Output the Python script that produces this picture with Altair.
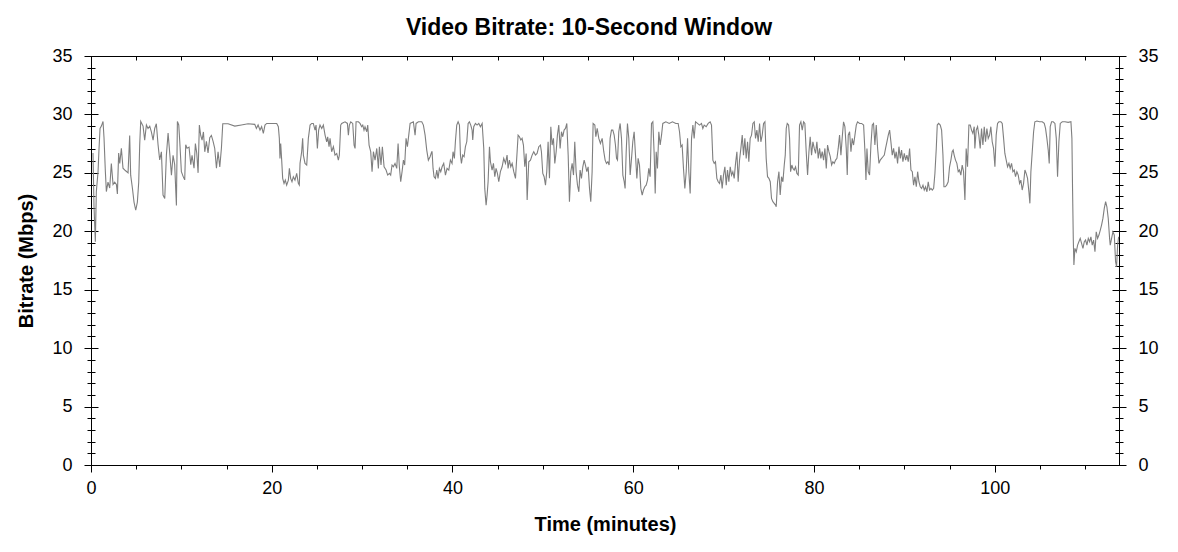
import altair as alt
import pandas as pd

TITLE = "Video Bitrate: 10-Second Window"
X_TITLE = "Time (minutes)"
Y_TITLE = "Bitrate (Mbps)"

# Segment 1: 0 - 18.5 min
seg1_min = [0.22, 0.33, 0.48, 0.59, 0.78, 0.89, 1.00, 1.15, 1.33, 1.44, 1.59, 1.70, 1.88, 2.07, 2.25, 2.44, 2.62, 2.81, 2.92, 3.06,
            3.18, 3.36, 3.54, 3.80, 4.10, 4.28, 4.39, 4.58, 4.76, 4.95, 5.13, 5.28, 5.39, 5.50, 5.76, 5.94, 6.13, 6.31, 6.50, 6.68,
            6.87, 7.05, 7.23, 7.42, 7.60, 7.79, 7.97, 8.16, 8.34, 8.53, 8.71, 8.90, 9.08, 9.26, 9.45, 9.56, 9.71, 9.82, 10.00, 10.19,
            10.37, 10.48, 10.63, 10.85, 11.04, 11.18, 11.40, 11.55, 11.70, 11.85, 11.99, 12.14, 12.29, 12.44, 12.59, 12.77, 12.95,
            13.14, 13.32, 13.51, 13.69, 13.88, 14.06, 14.25, 14.43, 14.58, 15.17, 15.91, 16.64, 17.38, 18.12, 18.30, 18.49]
seg1_mbps = [26.7, 22.2, 19.1, 23.4, 25.1, 27.1, 28.8, 29.0, 29.4, 28.0, 25.1, 23.4, 24.2, 23.7, 25.8, 24.0, 24.2, 24.0, 23.2, 26.7,
             25.8, 27.1, 25.4, 25.2, 25.0, 28.2, 24.8, 23.7, 22.5, 21.8, 22.5, 24.2, 27.4, 29.4, 29.0, 27.8, 29.1, 28.8, 29.0, 28.5,
             27.8, 28.8, 29.2, 27.4, 26.1, 26.8, 23.1, 22.8, 26.5, 28.4, 26.7, 24.8, 26.5, 25.7, 22.2, 29.4, 29.1, 27.7, 25.1, 24.7,
             24.4, 27.4, 27.1, 27.2, 25.7, 26.5, 25.4, 27.5, 26.7, 25.0, 29.1, 28.2, 27.8, 28.5, 26.8, 27.7, 26.7,
             28.0, 28.2, 27.7, 27.1, 25.4, 26.8, 25.5, 27.1, 29.2, 29.2, 29.0, 29.1, 29.2, 29.15, 28.8, 29.1]

# Segment 2: 18.7 - 37.7 min
seg2_min = [18.70, 18.88, 19.07, 19.25, 19.44, 20.55, 20.73, 20.84, 20.91, 20.99, 21.10, 21.21, 21.36, 21.50, 21.65, 21.84, 21.95,
            22.09, 22.24, 22.39, 22.57, 22.76, 22.94, 23.05, 23.13, 23.31, 23.42, 23.50, 23.68, 23.87, 24.05, 24.24, 24.42, 24.60,
            24.79, 24.90, 25.05, 25.19, 25.34, 25.53, 25.71, 25.90, 26.08, 26.19, 26.34, 26.45, 26.63, 26.82, 27.00, 27.19, 27.37,
            27.48, 27.63, 27.74, 28.11, 28.37, 28.48, 28.59, 28.74, 28.96, 29.11, 29.22, 29.33, 29.59, 29.77, 29.95, 30.07, 30.21,
            30.32, 30.51, 30.62, 30.77, 30.95, 31.10, 31.25, 31.43, 31.62, 31.80, 31.91, 32.09, 32.24, 32.43, 32.65, 32.83, 33.02,
            33.16, 33.31, 33.46, 33.64, 33.83, 33.98, 34.12, 34.27, 34.42, 34.57, 34.71, 34.86, 35.01, 35.16, 35.31, 35.67, 35.86,
            35.97, 36.23, 36.60, 36.78, 36.97, 37.15, 37.33, 37.52, 37.70]
seg2_mbps = [28.66, 28.95, 28.38, 29.09, 29.23, 29.23, 28.95, 27.95, 26.24, 27.52, 26.09, 24.53, 24.10, 24.38, 23.95, 24.38, 25.38,
             24.53, 24.24, 24.67, 24.38, 24.95, 24.10, 23.95, 25.81, 26.81, 27.95, 26.52, 25.81, 25.67, 27.95, 29.09, 29.23, 29.23,
             28.66, 29.09, 27.09, 28.66, 29.09, 28.80, 29.09, 28.23, 27.66, 28.09, 27.24, 27.95, 26.81, 27.24, 26.52, 26.66, 26.09,
             26.52, 29.09, 29.23, 29.37, 29.23, 28.23, 29.09, 29.37, 29.23, 27.38, 27.09, 29.37, 29.37, 29.23, 28.95, 29.09, 28.66,
             28.95, 28.52, 29.09, 27.38, 26.81, 25.10, 26.81, 26.09, 27.09, 25.38, 27.24, 25.67, 27.24, 25.52, 25.24, 24.81, 24.95,
             24.81, 25.67, 25.52, 25.81, 25.38, 27.52, 25.52, 24.24, 25.10, 26.09, 25.67, 27.95, 27.24, 28.23, 29.23, 29.37, 28.23,
             29.23, 29.37, 29.37, 29.09, 28.23, 26.95, 26.09, 26.38, 26.81]

# Segment 3: 37.7 - 56.7 min
seg3_min = [37.74, 37.85, 37.96, 38.11, 38.26, 38.40, 38.55, 38.70, 38.85, 39.03, 39.22, 39.40, 39.59, 39.77, 39.95, 40.06, 40.21,
            40.32, 40.47, 40.62, 40.77, 40.88, 40.99, 41.13, 41.28, 41.43, 41.58, 41.73, 41.87, 42.02, 42.17, 42.24, 42.35, 42.54,
            42.72, 42.91, 43.09, 43.28, 43.46, 43.57, 43.72, 43.83, 43.94, 44.09, 44.20, 44.38, 44.53, 44.68, 44.82, 44.97, 45.12,
            45.30, 45.49, 45.67, 45.86, 46.04, 46.15, 46.30, 46.45, 46.60, 46.78, 46.97, 47.15, 47.26, 47.41, 47.56, 47.70, 47.85,
            48.00, 48.15, 48.26, 48.44, 48.63, 48.81, 48.99, 49.18, 49.36, 49.55, 49.73, 49.84, 49.99, 50.14, 50.29, 50.43, 50.58,
            50.73, 50.88, 51.02, 51.17, 51.32, 51.47, 51.61, 51.76, 51.91, 52.06, 52.20, 52.35, 52.50, 52.65, 52.80, 52.94, 53.09,
            53.24, 53.39, 53.53, 53.68, 53.83, 53.98, 54.12, 54.27, 54.42, 54.57, 54.71, 54.86, 55.01, 55.16, 55.30, 55.45, 55.56,
            55.75, 55.86, 56.01, 56.19, 56.37, 56.56, 56.74]
seg3_mbps = [26.81, 25.38, 24.67, 24.53, 25.24, 24.53, 25.38, 25.10, 25.52, 25.81, 24.81, 25.38, 25.24, 26.09, 25.81, 26.81, 26.24,
             27.66, 29.09, 29.37, 29.09, 26.52, 25.81, 26.52, 26.38, 27.24, 27.66, 29.23, 29.37, 29.09, 28.66, 27.81, 28.95, 29.23,
             29.09, 29.23, 28.95, 29.23, 27.09, 23.67, 22.24, 23.10, 24.24, 27.24, 25.95, 25.24, 25.81, 24.67, 25.38, 24.95, 24.24,
             25.10, 25.52, 26.24, 25.81, 26.52, 25.38, 26.09, 25.52, 25.81, 25.10, 24.53, 26.81, 28.23, 28.09, 27.81, 27.95, 27.38,
             25.52, 26.66, 22.67, 25.95, 26.09, 26.52, 26.81, 26.52, 26.66, 27.24, 27.38, 26.81, 24.95, 24.67, 23.95, 25.10, 27.66,
             24.53, 28.95, 27.38, 27.95, 25.81, 26.81, 28.23, 29.09, 27.09, 28.52, 28.09, 28.66, 28.80, 29.23, 26.52, 22.53, 25.10,
             25.81, 24.81, 27.66, 25.10, 23.95, 23.38, 25.24, 24.53, 25.52, 26.09, 25.67, 25.10, 25.52, 23.67, 22.53, 25.10, 29.23,
             29.09, 28.09, 28.80, 27.95, 27.52, 27.95, 26.81]

# Segment 4: 56.9 - 75.8 min
seg4_min = [56.89, 57.04, 57.19, 57.33, 57.44, 57.59, 57.74, 57.89, 58.03, 58.15, 58.26, 58.40, 58.55, 58.70, 58.85, 59.00, 59.10,
            59.22, 59.36, 59.51, 59.66, 59.81, 59.95, 60.10, 60.25, 60.40, 60.54, 60.69, 60.84, 60.99, 61.13, 61.28, 61.43, 61.58,
            61.72, 61.87, 62.02, 62.17, 62.32, 62.43, 62.54, 62.68, 62.83, 62.98, 63.13, 63.27, 63.61, 63.98, 64.34, 64.71, 64.97,
            65.12, 65.27, 65.41, 65.56, 65.71, 65.86, 66.01, 66.15, 66.30, 66.45, 66.60, 66.74, 66.89, 67.11, 67.33, 67.55, 67.70,
            67.85, 68.07, 68.29, 68.51, 68.66, 68.81, 68.96, 69.10, 69.25, 69.40, 69.55, 69.70, 69.84, 69.99, 70.14, 70.29, 70.43,
            70.58, 70.73, 70.88, 71.02, 71.17, 71.32, 71.47, 71.61, 71.76, 71.91, 72.06, 72.20, 72.35, 72.50, 72.65, 72.79, 72.94,
            73.09, 73.24, 73.39, 73.53, 73.68, 73.83, 73.98, 74.12, 74.27, 74.42, 74.57, 74.71, 74.86, 75.01, 75.16, 75.30, 75.45,
            75.60, 75.75]
seg4_mbps = [26.09, 25.81, 25.95, 25.67, 27.95, 28.66, 28.66, 28.23, 27.38, 26.24, 26.09, 28.52, 29.23, 27.95, 24.81, 24.24, 23.67,
             26.81, 29.23, 27.95, 24.81, 26.24, 27.66, 28.52, 26.52, 24.53, 26.24, 25.67, 23.67, 23.10, 23.53, 23.81, 23.95, 24.38,
             25.38, 24.67, 29.23, 29.37, 26.52, 23.24, 26.81, 25.38, 28.52, 27.38, 28.23, 29.23, 29.37, 29.23, 29.37, 29.23, 29.23,
             28.52, 27.24, 27.38, 25.38, 23.67, 25.10, 27.95, 25.10, 23.24, 27.95, 29.09, 27.95, 29.37, 29.23, 29.09, 29.23, 28.80,
             29.09, 28.95, 29.23, 29.37, 29.09, 26.09, 25.81, 25.95, 24.53, 24.24, 24.10, 24.81, 23.67, 24.81, 25.52, 23.95, 25.24,
             24.24, 25.52, 24.81, 25.10, 24.53, 25.81, 26.81, 24.24, 26.09, 27.09, 28.23, 26.52, 27.95, 26.24, 27.66, 25.95, 27.95,
             28.23, 29.23, 29.37, 27.95, 28.66, 27.66, 29.23, 27.66, 28.23, 29.23, 29.37, 26.24, 24.67, 24.53, 24.24, 22.81, 22.53,
             22.39, 22.24]

# Segment 5: 75.8 - 94.7 min
seg5_min = [75.82, 75.97, 76.12, 76.26, 76.41, 76.56, 76.71, 76.82, 76.93, 77.04, 77.19, 77.30, 77.41, 77.55, 77.67, 77.81, 77.96,
            78.11, 78.26, 78.40, 78.55, 78.70, 78.85, 78.99, 79.14, 79.29, 79.44, 79.58, 79.73, 79.88, 80.03, 80.17, 80.32, 80.47,
            80.62, 80.76, 80.91, 81.06, 81.21, 81.36, 81.50, 81.65, 81.80, 81.95, 82.09, 82.24, 82.39, 82.54, 82.68, 82.83, 82.98,
            83.13, 83.27, 83.42, 83.57, 83.68, 83.79, 83.94, 84.09, 84.23, 84.38, 84.53, 84.68, 84.82, 85.05, 85.27, 85.49, 85.64,
            85.75, 85.86, 86.00, 86.15, 86.30, 86.45, 86.59, 86.74, 86.89, 87.04, 87.19, 87.33, 87.48, 87.63, 87.78, 87.92, 88.07,
            88.22, 88.37, 88.51, 88.66, 88.81, 88.96, 89.10, 89.25, 89.40, 89.55, 89.69, 89.84, 89.99, 90.14, 90.28, 90.43, 90.58,
            90.73, 90.88, 91.02, 91.17, 91.32, 91.47, 91.61, 91.76, 91.91, 92.06, 92.20, 92.35, 92.50, 92.64, 92.79, 92.94, 93.09,
            93.24, 93.38, 93.53, 93.64, 93.79, 93.97, 94.12, 94.27, 94.38, 94.53, 94.68]
seg5_mbps = [22.10, 24.24, 25.10, 23.10, 24.67, 24.24, 25.67, 26.52, 28.80, 29.23, 29.09, 27.95, 25.10, 25.67, 25.38, 25.24, 25.52,
             24.95, 24.81, 29.09, 29.37, 28.66, 29.37, 29.23, 26.81, 24.81, 26.81, 28.09, 26.52, 27.66, 27.09, 26.66, 27.66, 26.24,
             27.09, 26.24, 26.81, 26.09, 27.09, 25.38, 27.38, 26.81, 26.38, 25.67, 25.95, 25.81, 26.09, 26.24, 27.09, 28.23, 26.52,
             28.09, 29.37, 28.95, 27.09, 24.81, 28.23, 28.52, 26.81, 27.95, 27.38, 28.23, 29.09, 29.37, 29.23, 29.23, 29.09, 26.81,
             24.38, 27.09, 25.10, 24.81, 27.38, 29.09, 29.23, 27.38, 29.09, 27.09, 25.81, 26.09, 26.24, 26.38, 26.52, 27.09, 27.66,
             28.23, 28.66, 27.66, 26.52, 27.09, 26.24, 26.81, 25.81, 27.24, 26.24, 26.95, 25.95, 26.66, 26.09, 26.52, 25.95, 27.09,
             25.24, 25.10, 23.95, 24.67, 23.81, 25.10, 24.24, 23.81, 23.67, 23.95, 23.53, 23.81, 23.38, 24.24, 23.53, 23.67, 23.53,
             23.67, 24.95, 27.09, 29.09, 29.23, 29.09, 28.66, 26.52, 23.81, 23.81, 23.95]

# Segment 6: 94.85 - 113.7 min
seg6_min = [94.85, 95.00, 95.15, 95.29, 95.40, 95.51, 95.66, 95.81, 95.96, 96.10, 96.25, 96.40, 96.55, 96.70, 96.84, 96.99, 97.14,
            97.29, 97.43, 97.58, 97.73, 97.80, 97.95, 98.10, 98.24, 98.39, 98.54, 98.69, 98.84, 98.98, 99.13, 99.28, 99.43, 99.57,
            99.72, 99.87, 100.02, 100.16, 100.31, 100.46, 100.68, 100.83, 100.98, 101.12, 101.27, 101.42, 101.57, 101.71, 101.86,
            102.01, 102.16, 102.30, 102.45, 102.60, 102.75, 102.89, 103.04, 103.19, 103.34, 103.48, 103.63, 103.78, 103.89, 104.00,
            104.15, 104.30, 104.44, 104.67, 104.96, 105.26, 105.48, 105.62, 105.77, 105.92, 106.03, 106.14, 106.29, 106.47, 106.66,
            106.81, 106.95, 107.10, 107.25, 107.47, 107.77, 108.13, 108.43, 108.54, 108.61, 108.69, 108.76, 108.87, 109.02, 109.17,
            109.31, 109.46, 109.61, 109.76, 109.91, 110.05, 110.20, 110.35, 110.50, 110.64, 110.79, 110.94, 111.09, 111.23, 111.38,
            111.53, 111.68, 111.82, 111.97, 112.12, 112.27, 112.41, 112.56, 112.71, 112.78, 112.93, 113.08, 113.23, 113.37, 113.48,
            113.60, 113.71]
seg6_mbps = [24.24, 25.52, 26.09, 26.81, 26.95, 26.52, 26.09, 25.81, 25.10, 25.24, 24.81, 25.67, 25.10, 22.67, 27.09, 25.52, 29.09,
             29.09, 28.66, 28.38, 28.95, 27.09, 28.66, 28.95, 28.23, 27.09, 28.80, 27.38, 28.95, 27.66, 28.80, 27.95, 28.23, 28.95,
             27.66, 27.09, 25.52, 28.23, 29.23, 29.37, 29.37, 29.23, 27.95, 26.66, 26.09, 25.52, 25.81, 25.38, 25.81,
             25.10, 25.24, 24.67, 25.10, 24.81, 24.10, 24.38, 23.53, 24.10, 25.24, 24.95, 24.53, 23.38, 22.39, 25.10,
             26.81, 28.52, 29.37, 29.43, 29.37, 29.37, 29.23, 28.80, 27.95, 26.95, 25.81, 28.95, 29.37, 29.37, 29.23,
             27.95, 24.67, 27.66, 29.23, 29.37, 29.37, 29.32, 29.37, 27.95, 23.67, 19.39, 17.11, 18.54, 18.25, 18.82,
             19.11, 19.39, 18.96, 18.54, 19.11, 19.25, 18.82, 19.39, 19.11, 19.53, 18.82, 19.25, 18.25, 19.96, 19.39,
             19.68, 20.10, 20.53, 21.10, 21.96, 22.53, 22.10, 21.10, 19.39, 18.82, 19.39, 19.96, 19.68, 17.39, 16.97,
             18.82, 19.53]

X_MAX = 113.75
Y_MAX = 35
x_major = [0, 20, 40, 60, 80, 100]
x_minor = list(range(0, 114, 5))
y_major = list(range(0, 36, 5))
y_minor = list(range(0, 36, 1))

minutes = seg1_min + seg2_min + seg3_min + seg4_min + seg5_min + seg6_min
mbps = seg1_mbps + seg2_mbps + seg3_mbps + seg4_mbps + seg5_mbps + seg6_mbps
df = pd.DataFrame({"minutes": minutes, "mbps": mbps})

FONT = "Arial, Liberation Sans, sans-serif"
xscale = alt.Scale(domain=[0, X_MAX], nice=False, zero=False)
yscale = alt.Scale(domain=[0, Y_MAX], nice=False)

base = alt.Chart(df)


def xenc(axis):
    return alt.X("minutes:Q", scale=xscale, axis=axis)


def yenc(axis):
    return alt.Y("mbps:Q", scale=yscale, axis=axis)


def ghost(xaxis, yaxis):
    return base.mark_line(opacity=0).encode(x=xenc(xaxis), y=yenc(yaxis))


def plain_axis(orient, values, size, offset=0):
    return alt.Axis(orient=orient, values=values, tickSize=size, offset=offset,
                    labels=False, domain=False, grid=False, title=None,
                    tickColor="black", tickWidth=1)


main = base.mark_line(color="#7f7f7f", strokeWidth=1.1).encode(
    x=xenc(alt.Axis(orient="bottom", values=x_major, tickSize=7, labelPadding=7,
                    title=X_TITLE, titlePadding=17, domain=False, grid=False,
                    labelFlush=False, tickColor="black")),
    y=yenc(alt.Axis(orient="left", values=y_major, tickSize=7, labelPadding=12,
                    title=Y_TITLE, titlePadding=15, domain=False, grid=False,
                    tickColor="black")),
)

layers = [
    main,
    ghost(plain_axis("bottom", x_minor, 4), plain_axis("left", y_major, 7, -7)),
    ghost(plain_axis("top", x_minor, 4, -4), plain_axis("left", y_minor, 4)),
    ghost(None, plain_axis("left", y_minor, 4, -4)),
    ghost(None, alt.Axis(orient="right", values=y_major, tickSize=7, labelPadding=12,
                         domain=False, grid=False, title=None, tickColor="black")),
    ghost(None, plain_axis("right", y_major, 7, -7)),
    ghost(None, plain_axis("right", y_minor, 4)),
    ghost(None, plain_axis("right", y_minor, 4, -4)),
]

chart = alt.layer(*layers).resolve_axis(x="independent", y="independent").properties(
    width=1028,
    height=409,
    background="white",
    autosize=alt.AutoSizeParams(type="none"),
    padding={"left": 83, "top": 48, "right": 50, "bottom": 70},
    title=alt.TitleParams(TITLE, font=FONT, fontSize=23, fontWeight="bold", color="black",
                          anchor="middle", dx=-16, offset=7),
).configure_view(stroke="black", strokeWidth=1).configure_axis(
    labelFont=FONT, labelFontSize=18, labelColor="black",
    titleFont=FONT, titleFontSize=20, titleFontWeight="bold", titleColor="black",
    tickColor="black", tickWidth=1,
)

chart.save("out.html", embed_options={"renderer": "svg", "actions": False})
